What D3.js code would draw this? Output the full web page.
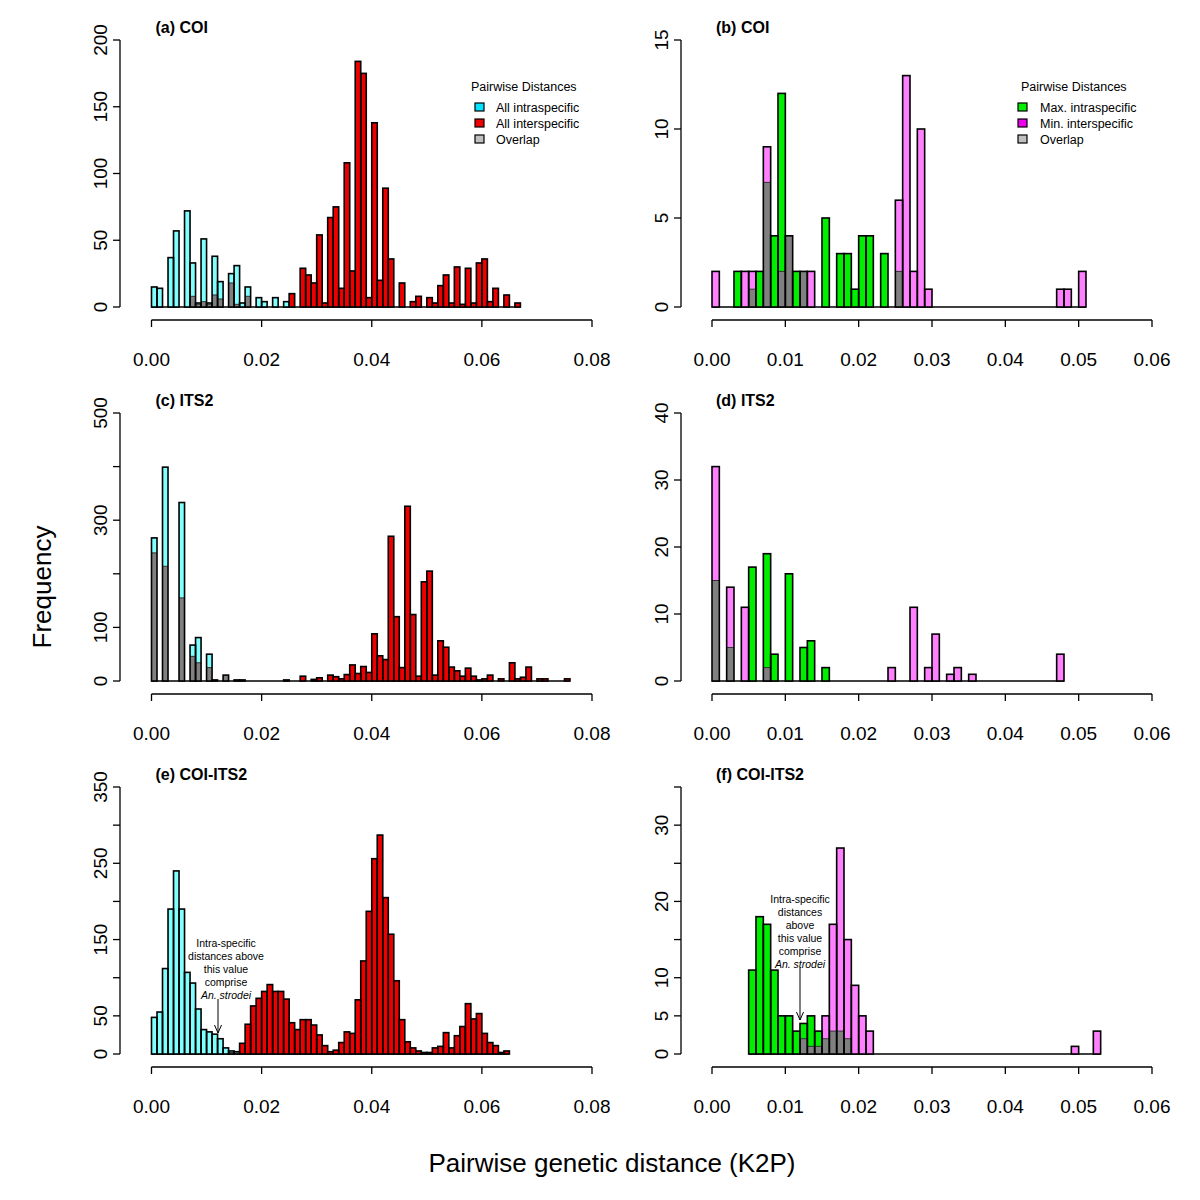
<!DOCTYPE html>
<html><head><meta charset="utf-8">
<script src="https://cdn.jsdelivr.net/npm/d3@7"></script>
<style>
body{margin:0;background:#fff}
svg{display:block}
text{font-family:"Liberation Sans",Arial,Helvetica,sans-serif;fill:#000}
</style>
</head><body>
<svg id="chart" width="1200" height="1200"></svg>
<script>
// bin width (K2P distance) shared by all histograms
const BIN = 0.001;

// (a) COI – all pairwise distances, counts per 0.001 bin starting at 0
const aIntra = [15,14,0,37,57,0,72,33,3,51,3,38,19,0,25,31,3,15,0,7,4,0,7,0,4];
const aInter = [0,0,0,0,0,0,0,8,2,4,2,9,6,0,18,2,0,8,0,0,0,0,0,0,0,
  10,0,29,24,18,54,3,67,75,14,108,27,184,175,7,138,20,89,36,0,18,0,4,8,0,
  7,3,16,24,3,30,2,29,3,33,36,4,14,0,9,0,3];

// (b) COI – max intraspecific / min interspecific
const bIntra = [0,0,0,2,0,1,2,7,4,12,4,2,2,0,0,5,0,3,3,1,4,4,0,3,0,2];
const bInter = [2,0,0,0,2,2,0,9,0,2,4,0,2,2,0,0,0,0,0,0,0,0,0,0,0,
  6,13,2,10,1,0,0,0,0,0,0,0,0,0,0,0,0,0,0,0,0,0,1,1,0,2];

// (c) ITS2 – all pairwise distances
const cIntra = [267,0,399,0,0,333,0,67,81,0,50,2,0,11,0,2,2];
const cInter = [239,0,214,0,0,155,0,46,34,0,25,2,0,11,0,2,2,0,0,0,0,0,0,0,2,
  0,0,9,0,3,6,0,11,8,4,12,30,14,27,16,88,47,40,270,120,25,326,124,9,185,
  205,11,75,63,26,19,9,24,9,2,4,11,0,4,0,34,4,7,26,0,4,4,0,0,0,4];

// (d) ITS2 – max intraspecific / min interspecific
const dIntra = [15,0,5,0,0,17,0,19,4,0,16,0,5,6,0,2];
const dInter = [32,0,14,0,11,0,0,2,0,0,0,0,0,0,0,0,0,0,0,0,0,0,0,0,2,
  0,0,11,0,2,7,0,1,2,0,1,0,0,0,0,0,0,0,0,0,0,0,4];

// (e) COI-ITS2 – all pairwise distances
const eIntra = [48,55,112,190,240,190,107,93,59,32,29,26,20,8,4,3];
const eInter = [0,0,0,0,0,0,0,0,0,0,0,0,0,0,2,3,14,39,63,73,82,91,82,82,72,
  41,32,45,45,38,25,11,3,5,15,29,27,71,122,187,256,287,205,157,96,45,16,8,4,2,
  2,8,10,28,8,24,36,66,46,53,27,15,11,2,4];

// (f) COI-ITS2 – max intraspecific / min interspecific
const fIntra = [0,0,0,0,0,11,18,17,11,5,5,3,4,5,3,2,3,3,2];
const fInter = [0,0,0,0,0,0,0,0,0,0,0,0,2,1,1,5,17,27,15,9,5,3,0,0,0,
  0,0,0,0,0,0,0,0,0,0,0,0,0,0,0,0,0,0,0,0,0,0,0,0,1,0,0,3];

// axis ticks
const xTicksLeft = [0,0.02,0.04,0.06,0.08];
const xTicksRight = [0,0.01,0.02,0.03,0.04,0.05,0.06];
const yTicksA = [0,50,100,150,200];
const yTicksB = [0,5,10,15];
const yTicksC = [0,100,200,300,400,500];
const yLabelsC = [0,100,300,500];
const yTicksD = [0,10,20,30,40];
const yTicksE = [0,50,100,150,200,250,300,350];
const yLabelsE = [0,50,150,250,350];
const yTicksF = [0,5,10,15,20,25,30,35];
const yLabelsF = [0,5,10,20,30];

const titles = ["(a) COI","(b) COI","(c) ITS2","(d) ITS2","(e) COI-ITS2","(f) COI-ITS2"];
const legendTitle = "Pairwise Distances";
const legendAll = ["All intraspecific","All interspecific","Overlap"];
const legendMinMax = ["Max. intraspecific","Min. interspecific","Overlap"];

const COL = {cyanBar:"#80ffff", redBar:"#ee0000", greenBar:"#00ee00", pinkBar:"#ff80ff",
  grayBar:"#808080", cyanKey:"#00e5ff", redKey:"#ee0000", greenKey:"#00ee00",
  magKey:"#ee00ee", grayKey:"#c0c0c0"};

const svg = d3.select("#chart");

const rows = [{y0:307, yTop:40}, {y0:681, yTop:413}, {y0:1054, yTop:787}];
const cols = [{x0:151.5, x1:592, yAxisX:120, xmax:0.08, ticks:xTicksLeft},
              {x0:712, x1:1152, yAxisX:681, xmax:0.06, ticks:xTicksRight}];

const panels = [
  {t:0, r:0, c:0, A:aIntra, B:aInter, ca:COL.cyanBar, cb:COL.redBar, yt:yTicksA, yl:yTicksA,
   legend:{x:471, sx:475, tx:496, items:legendAll, keys:[COL.cyanKey,COL.redKey,COL.grayKey]}},
  {t:1, r:0, c:1, A:bIntra, B:bInter, ca:COL.greenBar, cb:COL.pinkBar, yt:yTicksB, yl:yTicksB,
   legend:{x:1021, sx:1018, tx:1040, items:legendMinMax, keys:[COL.greenKey,COL.magKey,COL.grayKey]}},
  {t:2, r:1, c:0, A:cIntra, B:cInter, ca:COL.cyanBar, cb:COL.redBar, yt:yTicksC, yl:yLabelsC},
  {t:3, r:1, c:1, A:dIntra, B:dInter, ca:COL.greenBar, cb:COL.pinkBar, yt:yTicksD, yl:yTicksD},
  {t:4, r:2, c:0, A:eIntra, B:eInter, ca:COL.cyanBar, cb:COL.redBar, yt:yTicksE, yl:yLabelsE,
   note:{x:226, arrowX:218, y1:999, y2:1033, lines:["Intra-specific","distances above","this value","comprise"], y:943}},
  {t:5, r:2, c:1, A:fIntra, B:fInter, ca:COL.greenBar, cb:COL.pinkBar, yt:yTicksF, yl:yLabelsF,
   note:{x:800, arrowX:800, y1:968, y2:1020, lines:["Intra-specific","distances","above","this value","comprise"], y:899}}
];

panels.forEach(p => {
  const row = rows[p.r], col = cols[p.c];
  const x = d3.scaleLinear().domain([0, col.xmax]).range([col.x0, col.x1]);
  const ymax = d3.max(p.yt);
  const y = d3.scaleLinear().domain([0, ymax]).range([row.y0, row.yTop]);
  const g = svg.append("g");

  const n = Math.max(p.A.length, p.B.length);
  const bins = d3.range(n).map(i => {
    const a = p.A[i] || 0, b = p.B[i] || 0;
    return {i, a, b, hi: Math.max(a,b), lo: Math.min(a,b), col: a >= b ? p.ca : p.cb};
  });
  const nz = bins.filter(d => d.hi > 0);
  const first = d3.min(nz, d => d.i), last = d3.max(nz, d => d.i);

  // baseline (zero-height bins)
  g.append("line").attr("x1", x(first*BIN)).attr("x2", x((last+1)*BIN))
    .attr("y1", y(0)).attr("y2", y(0)).attr("stroke","#000").attr("stroke-width",1.6);

  const bw = d => x((d.i+1)*BIN) - x(d.i*BIN);
  // taller series
  g.selectAll("rect.hi").data(nz).join("rect").attr("class","hi")
    .attr("x", d => x(d.i*BIN)).attr("width", bw)
    .attr("y", d => y(d.hi)).attr("height", d => y(0) - y(d.hi))
    .attr("fill", d => d.col).attr("stroke","none");
  // overlap
  const ov = nz.filter(d => d.lo > 0);
  g.selectAll("rect.lo").data(ov).join("rect").attr("class","lo")
    .attr("x", d => x(d.i*BIN)).attr("width", bw)
    .attr("y", d => y(d.lo)).attr("height", d => y(0) - y(d.lo))
    .attr("fill", COL.grayBar);
  g.selectAll("line.lo").data(ov.filter(d => d.lo < d.hi)).join("line").attr("class","lo")
    .attr("x1", d => x(d.i*BIN)).attr("x2", d => x((d.i+1)*BIN))
    .attr("y1", d => y(d.lo)).attr("y2", d => y(d.lo))
    .attr("stroke","#333").attr("stroke-width",1);
  // outlines
  g.selectAll("rect.ol").data(nz).join("rect").attr("class","ol")
    .attr("x", d => x(d.i*BIN)).attr("width", bw)
    .attr("y", d => y(d.hi)).attr("height", d => y(0) - y(d.hi))
    .attr("fill","none").attr("stroke","#000").attr("stroke-width",1.6);

  // x axis
  const axY = row.y0 + 13;
  const xa = g.append("g");
  xa.append("line").attr("x1", x(col.ticks[0])).attr("x2", x(col.ticks[col.ticks.length-1]))
    .attr("y1", axY).attr("y2", axY).attr("stroke","#000").attr("stroke-width",1.3);
  col.ticks.forEach(t => {
    xa.append("line").attr("x1", x(t)).attr("x2", x(t)).attr("y1", axY).attr("y2", axY+7)
      .attr("stroke","#000").attr("stroke-width",1.3);
    xa.append("text").attr("x", x(t)).attr("y", axY + 46).attr("text-anchor","middle")
      .attr("font-size", 19).text(d3.format(".2f")(t));
  });

  // y axis
  const ax = col.yAxisX;
  const ya = g.append("g");
  ya.append("line").attr("x1", ax).attr("x2", ax).attr("y1", y(0)).attr("y2", y(ymax))
    .attr("stroke","#000").attr("stroke-width",1.3);
  p.yt.forEach(t => {
    ya.append("line").attr("x1", ax-7).attr("x2", ax).attr("y1", y(t)).attr("y2", y(t))
      .attr("stroke","#000").attr("stroke-width",1.3);
  });
  p.yl.forEach(t => {
    ya.append("text").attr("transform", `translate(${ax-13},${y(t)}) rotate(-90)`)
      .attr("text-anchor","middle").attr("font-size", 19).text(t);
  });

  // title
  g.append("text").attr("x", col.x0 + 4).attr("y", row.yTop - 7)
    .attr("font-size", 16).attr("font-weight","bold").text(titles[p.t]);

  // legend
  if (p.legend) {
    const L = p.legend;
    g.append("text").attr("x", L.x).attr("y", 91).attr("font-size", 12.5).text(legendTitle);
    L.items.forEach((s, k) => {
      const cy = 107 + k*16;
      g.append("rect").attr("x", L.sx).attr("y", cy-4).attr("width", 9).attr("height", 8)
        .attr("fill", L.keys[k]).attr("stroke","#000").attr("stroke-width",1.2);
      g.append("text").attr("x", L.tx).attr("y", cy+4.5).attr("font-size", 12.5).text(s);
    });
  }

  // annotation
  if (p.note) {
    const N = p.note;
    const lh = 13;
    N.lines.forEach((s, k) => {
      g.append("text").attr("x", N.x).attr("y", N.y + 4 + k*lh).attr("text-anchor","middle")
        .attr("font-size", 10.5).attr("fill","#222").text(s);
    });
    g.append("text").attr("x", N.x).attr("y", N.y + 4 + N.lines.length*lh).attr("text-anchor","middle")
      .attr("font-size", 10.5).attr("font-style","italic").text("An. strodei");
    g.append("line").attr("x1", N.arrowX).attr("x2", N.arrowX).attr("y1", N.y1).attr("y2", N.y2)
      .attr("stroke","#000").attr("stroke-width",1);
    g.append("path").attr("d", `M${N.arrowX-3.5},${N.y2-8} L${N.arrowX},${N.y2} L${N.arrowX+3.5},${N.y2-8}`)
      .attr("fill","none").attr("stroke","#000").attr("stroke-width",1);
  }
});

// global axis titles
svg.append("text").attr("transform","translate(51,587) rotate(-90)").attr("text-anchor","middle")
  .attr("font-size", 26).text("Frequency");
svg.append("text").attr("x", 612).attr("y", 1172).attr("text-anchor","middle")
  .attr("font-size", 26).text("Pairwise genetic distance (K2P)");
</script>
</body></html>
